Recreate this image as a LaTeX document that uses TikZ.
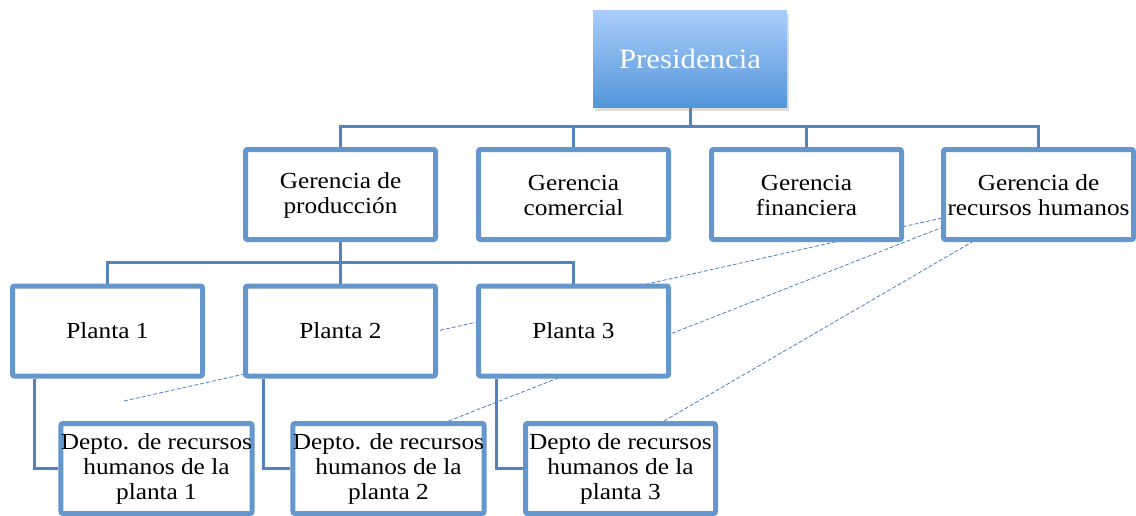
\documentclass[tikz,border=0pt]{standalone}
\usepackage{fontspec}
\setmainfont[FakeStretch=1.1]{Liberation Serif}
\usepackage{tikz}
\usetikzlibrary{positioning, shadows, calc, backgrounds}

\definecolor{boxblue}{RGB}{101,151,204}
\definecolor{linkblue}{RGB}{84,130,188}
\definecolor{dashblue}{RGB}{79,129,199}
\definecolor{presTop}{RGB}{170,205,252}
\definecolor{presBot}{RGB}{84,150,216}

\tikzset{
  unit/.style={draw=boxblue, line width=2.5pt, fill=white, rounded corners=1pt,
    minimum width=95pt, minimum height=45pt, inner sep=0pt, align=center,
    font=\fontsize{11.5}{12.5}\selectfont},
  topunit/.style={top color=presTop, bottom color=presBot, text=white,
    minimum width=97pt, minimum height=48.5pt, inner sep=0pt,
    font=\fontsize{14}{16}\selectfont,
    drop shadow={shadow xshift=1.2pt, shadow yshift=-1.8pt, opacity=.25}},
  link/.style={draw=linkblue, line width=1.5pt},
  ghost/.style={draw=dashblue, line width=0.4pt, dash pattern=on 2pt off 1pt},
}

\begin{document}
\begin{tikzpicture}[x=0.5pt, y=-0.5pt]
\useasboundingbox (0,0) rectangle (1136,515);

% nodes
\node[topunit] (P) at (690,58.5) {Presidencia};

\node[unit] (G1) at (340.5,194.5) {\strut Gerencia de\\producción};
\node[unit] (G2) at (573.5,194.5) {\strut Gerencia\\comercial};
\node[unit] (G3) at (806.5,194.5) {\strut Gerencia\\financiera};
\node[unit] (G4) at (1038.5,194.5) {\strut Gerencia de\\recursos humanos};

\node[unit] (PL1) at (107.5,331) {Planta 1};
\node[unit] (PL2) at (340.5,331) {Planta 2};
\node[unit] (PL3) at (573.5,331) {Planta 3};

\node[unit] (D1) at (156.5,468.5) {Depto. de recursos\\humanos de la\\planta 1};
\node[unit] (D2) at (388.5,468.5) {Depto. de recursos\\humanos de la\\planta 2};
\node[unit] (D3) at (620.5,468.5) {Depto de recursos\\humanos de la\\planta 3};

\coordinate (A0) at (124,401);

% links
\begin{scope}[on background layer]
\foreach \g in {G1,G2,G3,G4}
  \draw[link] (P.south) -- ++(0,19) -| (\g.north);
\foreach \p in {PL1,PL2,PL3}
  \draw[link] (G1.south) -- ++(0,20) -| (\p.north);
\draw[link] ($(PL1.south west)+(24,0)$) |- (D1.west);
\draw[link] ($(PL2.south west)+(20,0)$) |- (D2.west);
\draw[link] ($(PL3.south west)+(20,0)$) |- (D3.west);

% dashed lines
\draw[ghost] (A0) -- ($(G4.south west)!0.25!(G4.north west)$);
\draw[ghost] ($(D2.north east)+(-38,0)$) -- ($(G4.south west)!0.15!(G4.north west)$);
\draw[ghost] ($(D3.north east)+(-54,0)$) -- ($(G4.south west)+(31,0)$);
\end{scope}

\end{tikzpicture}
\end{document}
